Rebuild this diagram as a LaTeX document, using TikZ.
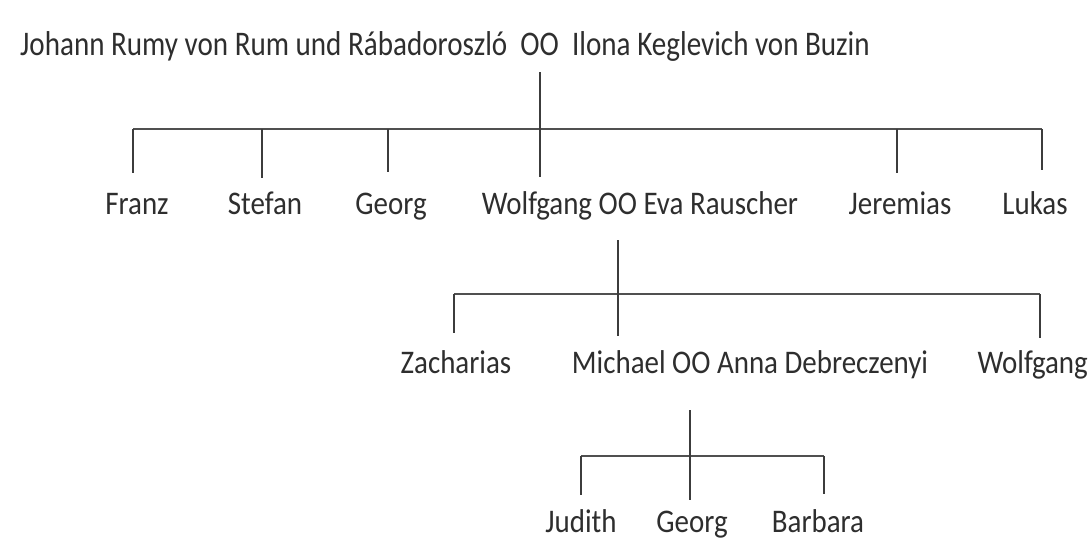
\documentclass[tikz,border=0pt]{standalone}
\usepackage{fontspec}
\setmainfont{Carlito}
\definecolor{ink}{HTML}{2E2E2E}
\definecolor{lineink}{HTML}{3C3C3C}
\newcommand{\nm}[1]{\scalebox{0.965}[1.1]{#1}}
\begin{document}
\begin{tikzpicture}[x=1pt,y=-1pt,
  person/.style={font=\fontsize{30}{36}\selectfont, text=ink, inner sep=0pt, anchor=base},
  vline/.style={draw=lineink, line width=1.8pt},
  hline/.style={draw=lineink!90, line width=2.8pt}]
\useasboundingbox[fill=white] (0,0) rectangle (1090,550);
% generation 1
\node[person, anchor=base west] (parents) at (20,55) {\scalebox{0.97}[1.15]{Johann Rumy von Rum und Rábadoroszló\ \ OO\ \ Ilona Keglevich von Buzin}};
% generation 2
\node[person] (franz) at (137,214) {\nm{Franz}};
\node[person] (stefan) at (265,214) {\nm{Stefan}};
\node[person] (georg1) at (391,214) {\nm{Georg}};
\node[person] (wolfgang1) at (640,214) {\nm{Wolfgang OO Eva Rauscher}};
\node[person] (jeremias) at (900,214) {\nm{Jeremias}};
\node[person] (lukas) at (1035,214) {\nm{Lukas}};
% generation 3
\node[person] (zacharias) at (456,373) {\nm{Zacharias}};
\node[person] (michael) at (750,373) {\nm{Michael OO Anna Debreczenyi}};
\node[person, anchor=base east] (wolfgang2) at (1088,373) {\nm{Wolfgang}};
% generation 4
\node[person] (judith) at (581,532) {\nm{Judith}};
\node[person] (georg2) at (692,532) {\nm{Georg}};
\node[person] (barbara) at (818,532) {\nm{Barbara}};

% coordinates
\coordinate (p1) at (540,72);
\coordinate (b1L) at (133,129);
\coordinate (b1R) at (1042,129);
\coordinate (w1) at (540,177);
\coordinate (f1) at (133,173);
\coordinate (s1) at (262,178);
\coordinate (g1) at (388,172);
\coordinate (j1) at (897,173);
\coordinate (l1) at (1042,170);

\coordinate (p2) at (618,240);
\coordinate (b2L) at (454,294);
\coordinate (b2R) at (1040,294);
\coordinate (m2) at (618,336);
\coordinate (z2) at (454,333);
\coordinate (wo2) at (1040,338);

\coordinate (p3) at (690,410);
\coordinate (b3L) at (581,456);
\coordinate (b3R) at (824,456);
\coordinate (g3) at (690,500);
\coordinate (ju3) at (581,495);
\coordinate (ba3) at (824,494);

% connectors
\draw[hline] (b1L) -- (b1R);
\draw[vline] (p1) -- (w1);
\draw[vline] (b1L) -- (f1);
\draw[vline] (s1 |- b1L) -- (s1);
\draw[vline] (g1 |- b1L) -- (g1);
\draw[vline] (j1 |- b1L) -- (j1);
\draw[vline] (b1R) -- (l1);

\draw[hline] (b2L) -- (b2R);
\draw[vline] (p2) -- (m2);
\draw[vline] (b2L) -- (z2);
\draw[vline] (b2R) -- (wo2);

\draw[hline] (b3L) -- (b3R);
\draw[vline] (p3) -- (g3);
\draw[vline] (b3L) -- (ju3);
\draw[vline] (b3R) -- (ba3);
\end{tikzpicture}
\end{document}
